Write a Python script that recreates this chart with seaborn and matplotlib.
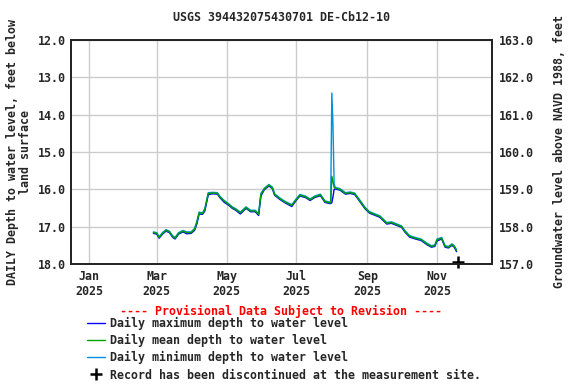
import pandas as pd
import seaborn as sns
import matplotlib.pyplot as plt
from matplotlib.lines import Line2D

dates = ['2025-02-26', '2025-03-01', '2025-03-03', '2025-03-06', '2025-03-09', '2025-03-12',
         '2025-03-15', '2025-03-17', '2025-03-20', '2025-03-24', '2025-03-27', '2025-03-31',
         '2025-04-03', '2025-04-05', '2025-04-07', '2025-04-10', '2025-04-12', '2025-04-15',
         '2025-04-19', '2025-04-23', '2025-04-25', '2025-04-29',
         '2025-05-03', '2025-05-06', '2025-05-09', '2025-05-13', '2025-05-18', '2025-05-22',
         '2025-05-26', '2025-05-29', '2025-05-31',
         '2025-06-03', '2025-06-07', '2025-06-10', '2025-06-12', '2025-06-17', '2025-06-21',
         '2025-06-27',
         '2025-07-01', '2025-07-04', '2025-07-09', '2025-07-13', '2025-07-17', '2025-07-22',
         '2025-07-26', '2025-07-30', '2025-07-31',
         '2025-08-01', '2025-08-02', '2025-08-03', '2025-08-04', '2025-08-08', '2025-08-13',
         '2025-08-17', '2025-08-21', '2025-08-26', '2025-08-30',
         '2025-09-03', '2025-09-08', '2025-09-12', '2025-09-18', '2025-09-22', '2025-09-27',
         '2025-10-01', '2025-10-04', '2025-10-08', '2025-10-13', '2025-10-18', '2025-10-23',
         '2025-10-27', '2025-10-30',
         '2025-11-01', '2025-11-05', '2025-11-08', '2025-11-11', '2025-11-14', '2025-11-16',
         '2025-11-18']

depth_mean = [17.16, 17.18, 17.29, 17.18, 17.10, 17.14, 17.27, 17.31, 17.18, 17.12, 17.16, 17.16,
              17.07, 16.89, 16.63, 16.65, 16.54, 16.11, 16.10, 16.11, 16.20, 16.32,
              16.41, 16.49, 16.54, 16.63, 16.49, 16.58, 16.58, 16.67, 16.14,
              15.99, 15.89, 15.96, 16.14, 16.26, 16.34, 16.43,
              16.27, 16.16, 16.20, 16.28, 16.20, 16.15, 16.33, 16.36, 16.36,
              15.65, 15.80, 15.95, 15.97, 16.00, 16.11, 16.09, 16.12, 16.33, 16.50,
              16.62, 16.68, 16.73, 16.91, 16.89, 16.95,
              17.00, 17.13, 17.26, 17.31, 17.35, 17.46, 17.53, 17.51,
              17.35, 17.31, 17.53, 17.55, 17.48, 17.53, 17.64]

depth_max = [17.18, 17.20, 17.31, 17.20, 17.12, 17.16, 17.29, 17.33, 17.20, 17.14, 17.19, 17.18,
             17.10, 16.93, 16.66, 16.67, 16.58, 16.14, 16.12, 16.13, 16.22, 16.35,
             16.43, 16.51, 16.56, 16.66, 16.51, 16.60, 16.60, 16.70, 16.18,
             16.01, 15.91, 15.98, 16.16, 16.28, 16.36, 16.46,
             16.29, 16.18, 16.22, 16.30, 16.22, 16.17, 16.35, 16.38, 16.38,
             16.36, 16.20, 16.00, 15.99, 16.02, 16.13, 16.11, 16.14, 16.35, 16.52,
             16.64, 16.70, 16.75, 16.93, 16.91, 16.97,
             17.02, 17.15, 17.28, 17.33, 17.37, 17.48, 17.55, 17.53,
             17.38, 17.33, 17.55, 17.57, 17.50, 17.55, 17.67]

depth_min = [17.14, 17.16, 17.27, 17.16, 17.08, 17.12, 17.25, 17.29, 17.16, 17.10, 17.14, 17.14,
             17.05, 16.86, 16.61, 16.63, 16.51, 16.09, 16.08, 16.09, 16.18, 16.30,
             16.39, 16.47, 16.52, 16.61, 16.47, 16.56, 16.56, 16.65, 16.11,
             15.97, 15.87, 15.94, 16.12, 16.24, 16.32, 16.41,
             16.25, 16.14, 16.18, 16.26, 16.18, 16.13, 16.31, 16.34, 16.33,
             13.42, 14.30, 15.85, 15.95, 15.98, 16.09, 16.07, 16.10, 16.31, 16.48,
             16.60, 16.66, 16.71, 16.89, 16.87, 16.93,
             16.98, 17.11, 17.24, 17.29, 17.33, 17.44, 17.51, 17.49,
             17.33, 17.29, 17.51, 17.53, 17.46, 17.51, 17.62]

discontinued_date = ['2025-11-19']
discontinued_depth = [17.95]

tick_dates = ['2025-01-01', '2025-03-01', '2025-05-01', '2025-07-01', '2025-09-01', '2025-11-01']
tick_labels = ['Jan\n2025', 'Mar\n2025', 'May\n2025', 'Jul\n2025', 'Sep\n2025', 'Nov\n2025']

df = pd.DataFrame({'date': pd.to_datetime(dates), 'max': depth_max,
                   'mean': depth_mean, 'min': depth_min})

sns.set_style('white')
plt.rcParams['font.family'] = ['DejaVu Sans Mono', 'DejaVu Sans']
plt.rcParams['font.weight'] = 'bold'
plt.rcParams['axes.titleweight'] = 'bold'
plt.rcParams['axes.labelweight'] = 'bold'
plt.rcParams['font.size'] = 8.4

fig = plt.figure(figsize=(5.76, 3.84), dpi=100)
ax = fig.add_axes([71 / 576, 1 - 264 / 384, 421 / 576, 224 / 384])

c_max, c_mean, c_min = '#0000FF', '#00A000', '#0090DD'
sns.lineplot(data=df, x='date', y='min', color=c_min, lw=1, ax=ax)
sns.lineplot(data=df, x='date', y='max', color=c_max, lw=1, ax=ax)
sns.lineplot(data=df, x='date', y='mean', color=c_mean, lw=1, ax=ax)
ax.plot(pd.to_datetime(discontinued_date), discontinued_depth, marker='+', ls='none',
        color='black', ms=8, mew=1.8, clip_on=False)

ax.set_xlim(pd.Timestamp('2024-12-16'), pd.Timestamp('2025-12-19'))
ax.set_ylim(18, 12)
ax.set_yticks([12, 13, 14, 15, 16, 17, 18])
ax.yaxis.set_major_formatter(plt.FormatStrFormatter('%.1f'))
ax.set_xticks(pd.to_datetime(tick_dates))
ax.set_xticklabels(tick_labels, fontweight='bold')
for t in ax.get_yticklabels():
    t.set_fontweight('bold')
ax.grid(True, color='#cccccc', lw=1)
ax.tick_params(length=0, pad=4)
for s in ax.spines.values():
    s.set_color('black')
    s.set_linewidth(1.2)
ax.set_xlabel('')
ax.set_ylabel('DAILY Depth to water level, feet below\nland surface', linespacing=0.95,
              fontweight='bold')
ax.set_title('USGS 394432075430701 DE-Cb12-10', fontsize=8.4, pad=14, fontweight='bold')

ax2 = ax.twinx()
ax2.set_ylim(157, 163)
ax2.set_yticks([157, 158, 159, 160, 161, 162, 163])
ax2.yaxis.set_major_formatter(plt.FormatStrFormatter('%.1f'))
for t in ax2.get_yticklabels():
    t.set_fontweight('bold')
ax2.tick_params(length=0, pad=5)
ax2.set_ylabel('Groundwater level above NAVD 1988, feet', labelpad=14, fontweight='bold')
for s in ax2.spines.values():
    s.set_linewidth(1.2)

fig.text(281 / 576, 1 - 311 / 384, '---- Provisional Data Subject to Revision ----',
         color='red', ha='center', va='center', fontweight='bold')

handles = [Line2D([], [], color=c_max, lw=1),
           Line2D([], [], color=c_mean, lw=1),
           Line2D([], [], color=c_min, lw=1),
           Line2D([], [], color='black', marker='+', ls='none', ms=8, mew=1.8)]
labels = ['Daily maximum depth to water level',
          'Daily mean depth to water level',
          'Daily minimum depth to water level',
          'Record has been discontinued at the measurement site.']
fig.legend(handles, labels, loc='upper left', bbox_to_anchor=(87 / 576, 1 - 317 / 384),
           frameon=False, borderpad=0, borderaxespad=0, handlelength=1.5,
           handletextpad=0.5, labelspacing=0.35, prop={'weight': 'bold', 'size': 8.4})

fig.savefig('out.png', dpi=100)
